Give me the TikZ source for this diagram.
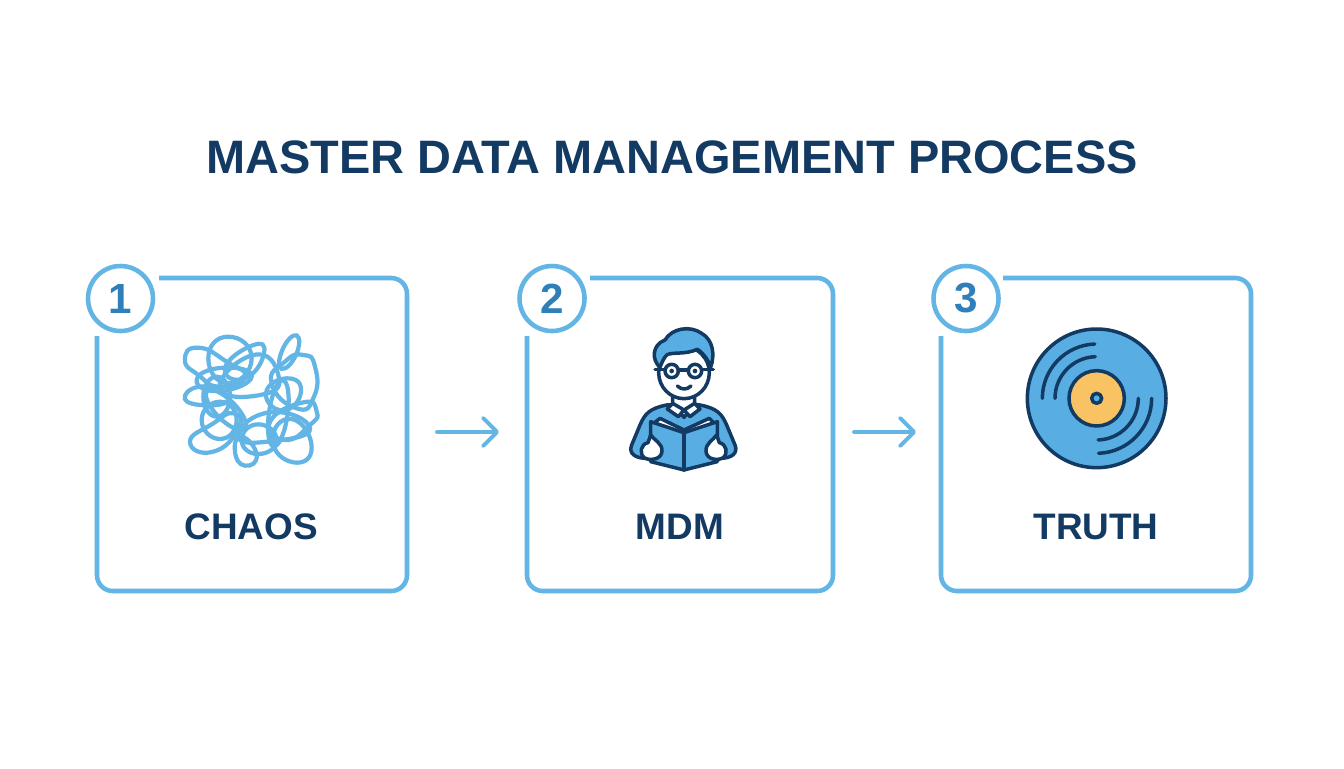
\documentclass[tikz,border=0pt]{standalone}
\usepackage{fontspec}
\setmainfont{Liberation Sans}
\usepackage{xcolor}
\usetikzlibrary{arrows.meta}
\definecolor{navy}{HTML}{123A63}
\definecolor{skyline}{HTML}{62B5E5}
\definecolor{skyfill}{HTML}{58AEE2}
\definecolor{digitblue}{HTML}{2F80B8}
\definecolor{discgold}{HTML}{F9C262}
\tikzset{
  cardline/.style={draw=skyline,line width=2.6pt,rounded corners=9pt},
  badge/.style={circle,draw=skyline,line width=2.6pt,fill=white,minimum size=37pt,inner sep=0pt,
    text=digitblue,font=\bfseries\fontsize{24}{24}\selectfont},
  cardlabel/.style={text=navy,font=\bfseries\fontsize{21}{21}\selectfont},
  flowarrow/.style={draw=skyline,line width=2.2pt,line cap=round,-{Straight Barb[length=8pt,width=16pt,line width=2.2pt,round]}},
  scribble/.style={draw=skyline,line width=2.4pt},
  icon/.style={draw=navy,line width=2pt,line join=round,line cap=round}
}
\begin{document}
\begin{tikzpicture}[x=0.02cm,y=-0.02cm]
    \useasboundingbox (0,0) rectangle (1344,768);
    \fill[color=white] (0,0) rectangle (1344,768);
    \node[text=navy,font=\bfseries\fontsize{26.7}{27}\selectfont] (title) at (672,157) {MASTER DATA MANAGEMENT PROCESS};

    % the three cards
    \draw[cardline] (159,278) -- (407,278) -- (407,591) -- (97,591) -- (97,336);
    \draw[cardline] (590,278) -- (833,278) -- (833,591) -- (527,591) -- (527,336);
    \draw[cardline] (1003,278) -- (1251,278) -- (1251,591) -- (941,591) -- (941,336);
    \node[badge] (badgea) at (120.5,298.5) {1};
    \node[badge] (badgeb) at (552,298.5) {2};
    \node[badge] (badgec) at (966,298.5) {3};
    \node[cardlabel] (chaos) at (251,527) {CHAOS};
    \node[cardlabel] (mdm) at (680,527) {MDM};
    \node[cardlabel] (truth) at (1096,527) {TRUTH};

    % arrows between the cards
    \coordinate (arrowastart) at (437,432);
    \coordinate (arrowaend) at (499,432);
    \coordinate (arrowbstart) at (854,432);
    \coordinate (arrowbend) at (916,432);
    \draw[flowarrow] (arrowastart) -- (arrowaend);
    \draw[flowarrow] (arrowbstart) -- (arrowbend);

    % tangle, in units of a third of a pixel
    \begin{scope}[shift={(170,325)},scale=0.3333]
      \draw[scribble] plot[smooth cycle,tension=1] coordinates {(45,105) (85,68) (170,110) (225,155) (150,185) (85,150)};
      \draw[scribble] plot[smooth cycle,tension=1] coordinates {(115,100) (175,35) (245,100) (175,175)};
      \draw[scribble] plot[smooth cycle,tension=1] coordinates {(165,130) (245,62) (282,85) (225,160)};
      \draw[scribble] plot[smooth cycle,tension=1] coordinates {(150,190) (250,90) (325,150) (280,208)};
      \draw[scribble] plot[smooth cycle,tension=1] coordinates {(80,165) (160,128) (245,155) (150,198)};
      \draw[scribble] plot[smooth cycle,tension=1] coordinates {(45,212) (110,185) (175,225) (90,240)};
      \draw[scribble] plot[smooth cycle,tension=1] coordinates {(330,95) (370,32) (385,70) (345,130)};
      \draw[scribble] plot[smooth cycle,tension=1] coordinates {(345,110) (400,90) (435,125) (432,215) (380,250) (305,175)};
      \draw[scribble] plot[smooth cycle,tension=1] coordinates {(288,205) (350,160) (393,200) (340,256)};
      \draw[scribble] plot[smooth cycle,tension=1] coordinates {(440,260) (400,232) (300,290) (345,345) (420,300)};
      \draw[scribble] plot[smooth cycle,tension=1] coordinates {(60,350) (130,295) (190,265) (205,310) (130,380)};
      \draw[scribble] plot[smooth cycle,tension=1] coordinates {(95,285) (150,230) (200,285) (150,342)};
      \draw[scribble] plot[smooth cycle,tension=1] coordinates {(205,335) (300,262) (420,310) (310,348)};
      \draw[scribble] plot[smooth cycle,tension=1] coordinates {(215,345) (265,298) (320,345) (265,387)};
      \draw[scribble] plot[smooth cycle,tension=1] coordinates {(308,345) (365,282) (425,365) (370,412)};
      \draw[scribble] plot[smooth cycle,tension=1] coordinates {(195,380) (215,335) (260,390) (225,422)};
      \draw[scribble] (168,255) ellipse [x radius=80,y radius=30,rotate=-45];
      \draw[scribble] (325,265) ellipse [x radius=28,y radius=100,rotate=-8];
      \draw[scribble] (140,215) ellipse [x radius=40,y radius=60];
    \end{scope}

    % reader, in units of a third of a pixel
    \begin{scope}[shift={(610,310)},scale=0.3333]
      \draw[icon,fill=skyfill] (170,285) .. controls (120,295) and (105,310) .. (90,345)
        -- (65,405) .. controls (55,430) and (75,445) .. (110,445) -- (330,445)
        .. controls (365,445) and (385,430) .. (375,405) -- (350,345)
        .. controls (335,310) and (320,295) .. (270,285) -- cycle;
      \draw[icon,fill=white] (188,250) -- (188,285) -- (222,322) -- (254,285) -- (254,250) -- cycle;
      \draw[icon,fill=white] (188,280) -- (172,297) -- (205,320) -- (222,300) -- (240,320) -- (270,297) -- (254,280) -- (222,300) -- cycle;
      \draw[icon,fill=white] (150,325) -- (222,360) -- (298,325) -- (318,345) -- (222,385) -- (125,345) -- cycle;
      \draw[icon,fill=skyfill] (122,335) -- (222,368) -- (322,335) -- (322,455) -- (222,480) -- (122,455) -- cycle;
      \draw[icon] (222,368) -- (222,480);
      \draw[icon,fill=white] (122,375) .. controls (132,390) and (158,400) .. (156,424)
        .. controls (154,450) and (118,452) .. (104,444)
        .. controls (86,432) and (92,402) .. (114,398) -- cycle;
      \draw[icon,fill=white] (320,375) .. controls (310,390) and (286,400) .. (288,424)
        .. controls (290,450) and (324,452) .. (338,444)
        .. controls (356,432) and (350,402) .. (328,398) -- cycle;
      \draw[icon,fill=white] (222,188) ellipse [x radius=76,y radius=78];
      \draw[icon,fill=skyfill] (150,172) .. controls (125,150) and (125,105) .. (165,90)
        .. controls (185,55) and (240,45) .. (275,70)
        .. controls (310,90) and (315,135) .. (302,172)
        .. controls (295,150) and (285,135) .. (262,118)
        .. controls (225,135) and (185,125) .. (170,135)
        .. controls (160,145) and (155,160) .. (150,172) -- cycle;
      \draw[icon] (262,118) .. controls (270,122) and (275,128) .. (282,142);
      \draw[icon,fill=white] (185,183) circle (20);
      \draw[icon,fill=white] (255,183) circle (20);
      \fill[color=navy] (185,183) circle (7);
      \fill[color=navy] (255,183) circle (7);
      \draw[icon] (205,180) -- (235,180);
      \draw[icon] (165,178) -- (135,178);
      \draw[icon] (275,178) -- (310,178);
      \draw[icon] (202,228) .. controls (215,240) and (230,240) .. (243,228);
    \end{scope}

    % record, in units of a third of a pixel
    \begin{scope}[shift={(1010,315)},scale=0.3333]
      \draw[icon,fill=skyfill] (260,250) circle (208);
      \draw[icon,fill=discgold] (260,250) circle (83);
      \draw[icon,fill=skyfill] (260,250) circle (15);
      \draw[icon] (97,250) arc [start angle=180,end angle=268,radius=163];
      \draw[icon] (135,250) arc [start angle=180,end angle=268,radius=125];
      \draw[icon] (425,250) arc [start angle=0,end angle=88,radius=165];
      \draw[icon] (385,250) arc [start angle=0,end angle=88,radius=125];
    \end{scope}
\end{tikzpicture}
\end{document}
